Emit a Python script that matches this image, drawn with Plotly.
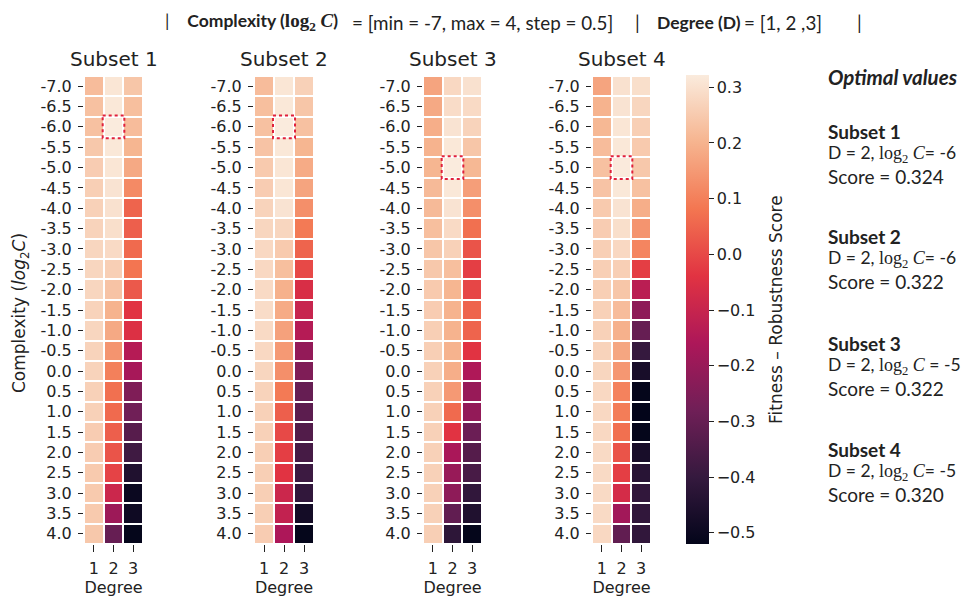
import numpy as np
import plotly.graph_objects as go

# ---------------- data ----------------
log2C = [-7.0, -6.5, -6.0, -5.5, -5.0, -4.5, -4.0, -3.5, -3.0, -2.5, -2.0, -1.5,
         -1.0, -0.5, 0.0, 0.5, 1.0, 1.5, 2.0, 2.5, 3.0, 3.5, 4.0]
log2C_labels = [f"{v:.1f}" for v in log2C]
degrees = [1, 2, 3]
subset_names = ["Subset 1", "Subset 2", "Subset 3", "Subset 4"]

s1_d1 = [0.22, 0.23, 0.23, 0.245, 0.255, 0.26, 0.265, 0.27, 0.275, 0.275, 0.275, 0.27,
         0.275, 0.27, 0.27, 0.265, 0.265, 0.255, 0.255, 0.25, 0.25, 0.25, 0.245]
s1_d2 = [0.31, 0.315, 0.324, 0.315, 0.31, 0.305, 0.30, 0.295, 0.285, 0.26, 0.235, 0.20,
         0.18, 0.14, 0.10, 0.07, 0.06, 0.04, 0.02, -0.01, -0.09, -0.19, -0.30]
s1_d3 = [0.24, 0.225, 0.22, 0.205, 0.18, 0.12, 0.05, 0.04, 0.06, 0.08, 0.03, -0.04,
         -0.05, -0.14, -0.17, -0.25, -0.28, -0.33, -0.38, -0.45, -0.50, -0.49, -0.515]

s2_d1 = [0.22, 0.225, 0.23, 0.235, 0.25, 0.255, 0.27, 0.275, 0.28, 0.28, 0.285, 0.29,
         0.285, 0.28, 0.275, 0.27, 0.265, 0.265, 0.26, 0.26, 0.26, 0.26, 0.255]
s2_d2 = [0.31, 0.315, 0.322, 0.315, 0.31, 0.31, 0.305, 0.275, 0.25, 0.225, 0.195, 0.185,
         0.165, 0.15, 0.13, 0.09, 0.04, 0.0, -0.02, -0.04, -0.09, -0.11, -0.16]
s2_d3 = [0.265, 0.24, 0.23, 0.205, 0.185, 0.17, 0.13, 0.09, 0.05, 0.0, -0.06, -0.10,
         -0.14, -0.21, -0.25, -0.30, -0.32, -0.34, -0.365, -0.385, -0.41, -0.48, -0.515]

s3_d1 = [0.17, 0.18, 0.19, 0.20, 0.205, 0.215, 0.215, 0.225, 0.24, 0.245, 0.25, 0.255,
         0.26, 0.26, 0.265, 0.265, 0.265, 0.265, 0.265, 0.265, 0.265, 0.265, 0.26]
s3_d2 = [0.28, 0.29, 0.305, 0.315, 0.322, 0.315, 0.305, 0.285, 0.265, 0.225, 0.205, 0.20,
         0.20, 0.20, 0.19, 0.15, 0.06, -0.04, -0.165, -0.20, -0.22, -0.31, -0.42]
s3_d3 = [0.30, 0.285, 0.27, 0.24, 0.21, 0.16, 0.13, 0.07, 0.02, -0.02, -0.005, 0.05,
         0.05, -0.04, -0.155, -0.20, -0.21, -0.29, -0.335, -0.36, -0.41, -0.45, -0.515]

s4_d1 = [0.17, 0.20, 0.21, 0.22, 0.23, 0.235, 0.25, 0.255, 0.26, 0.26, 0.26, 0.265,
         0.265, 0.27, 0.275, 0.28, 0.28, 0.28, 0.285, 0.285, 0.285, 0.285, 0.28]
s4_d2 = [0.30, 0.305, 0.31, 0.315, 0.320, 0.315, 0.305, 0.295, 0.28, 0.26, 0.24, 0.22,
         0.195, 0.175, 0.145, 0.105, 0.095, 0.07, 0.02, -0.02, -0.07, -0.18, -0.31]
s4_d3 = [0.295, 0.275, 0.26, 0.25, 0.245, 0.23, 0.19, 0.14, 0.11, -0.02, -0.13, -0.22,
         -0.30, -0.40, -0.47, -0.515, -0.52, -0.515, -0.47, -0.43, -0.41, -0.41, -0.41]

subsets = [
    (s1_d1, s1_d2, s1_d3),
    (s2_d1, s2_d2, s2_d3),
    (s3_d1, s3_d2, s3_d3),
    (s4_d1, s4_d2, s4_d3),
]

# optimal cell per subset (degree, log2C)
opt_degree = [2, 2, 2, 2]
opt_log2C = [-6.0, -6.0, -5.0, -5.0]
opt_score = ["0.324", "0.322", "0.322", "0.320"]

cbar_ticks = [-0.5, -0.4, -0.3, -0.2, -0.1, 0.0, 0.1, 0.2, 0.3]
cbar_ticktext = [f"{v:.1f}".replace("-", "\u2212") for v in cbar_ticks]
zmin, zmax = -0.52, 0.322

# seaborn "rocket" colormap (approximation)
rocket = [
    [0.0, "#03051a"], [1/7, "#35193e"], [2/7, "#701f57"], [3/7, "#ad1759"],
    [4/7, "#e13342"], [5/7, "#f37651"], [6/7, "#f6b48f"], [1.0, "#faebdd"],
]

# ---------------- layout geometry ----------------
W, H = 972, 596
OFF = 8  # page body margin offset


def px(xp):
    return (xp - OFF) / W


def py(yp):
    return 1 - (yp - OFF) / H


x_px = [(84, 143), (254, 314), (423, 482), (592, 651)]
y_px = (76, 544)
ydom = [py(y_px[1]), py(y_px[0])]

TXT = "#222222"
TICKFONT = dict(family="DejaVu Sans", size=16, color=TXT)
CAL = "Lato"

fig = go.Figure()
layout = dict(
    width=W, height=H, autosize=False,
    margin=dict(l=0, r=0, t=0, b=0),
    paper_bgcolor="white", plot_bgcolor="white",
    showlegend=False,
)

annotations = []
shapes = []
for i, (d1, d2, d3) in enumerate(subsets):
    k = "" if i == 0 else str(i + 1)
    z = np.column_stack([d1, d2, d3])
    fig.add_trace(go.Heatmap(
        z=z, x=degrees, y=log2C,
        xaxis="x" + k, yaxis="y" + k,
        colorscale=rocket, zmin=zmin, zmax=zmax,
        xgap=2, ygap=2,
        showscale=(i == 3),
        colorbar=dict(
            x=px(686), xanchor="left", xpad=0,
            y=py((75 + 544) / 2), yanchor="middle", ypad=0,
            len=(544 - 75) / H, lenmode="fraction",
            thickness=23, outlinewidth=0,
            ticks="outside", ticklen=5, tickwidth=1, tickcolor=TXT,
            tickvals=cbar_ticks, ticktext=cbar_ticktext,
            tickfont=TICKFONT,
        ),
        hovertemplate="Degree %{x}<br>log2C %{y}<br>Score %{z:.3f}<extra></extra>",
    ))
    xd = [px(x_px[i][0]), px(x_px[i][1])]
    layout["xaxis" + k] = dict(
        domain=xd, anchor="y" + k, range=[0.5, 3.5],
        tickvals=degrees, ticktext=[str(d) for d in degrees],
        ticks="outside", ticklen=7, tickwidth=1, tickcolor=TXT,
        ticklabelstandoff=3,
        tickfont=TICKFONT, showgrid=False, zeroline=False, showline=False,
        title=dict(text="Degree", standoff=4,
                   font=dict(family="DejaVu Sans", size=16, color=TXT)),
    )
    layout["yaxis" + k] = dict(
        domain=ydom, anchor="x" + k, range=[4.25, -7.25],
        tickvals=log2C, ticktext=log2C_labels,
        ticks="outside", ticklen=5, tickwidth=1, tickcolor=TXT,
        ticklabelstandoff=3,
        tickfont=TICKFONT, showgrid=False, zeroline=False, showline=False,
    )
    annotations.append(dict(
        text=subset_names[i], xref="paper", yref="paper",
        x=(xd[0] + xd[1]) / 2, y=py(59), xanchor="center", yanchor="middle",
        showarrow=False, font=dict(family="DejaVu Sans", size=20, color=TXT),
    ))
    shapes.append(dict(
        type="rect", xref="x" + k, yref="y" + k,
        x0=opt_degree[i] - 0.55, x1=opt_degree[i] + 0.55,
        y0=opt_log2C[i] - 0.28, y1=opt_log2C[i] + 0.28,
        line=dict(color="#e0203c", width=2, dash="dot"),
        fillcolor="rgba(0,0,0,0)",
    ))

# y-axis title
annotations.append(dict(
    text="Complexity (<i>log</i><sub>2</sub><i>C</i>)",
    xref="paper", yref="paper", x=px(20), y=py(313),
    xanchor="center", yanchor="middle", textangle=-90, showarrow=False,
    font=dict(family="DejaVu Sans", size=17, color=TXT),
))

# colorbar title
annotations.append(dict(
    text="Fitness \u2013 Robustness Score",
    xref="paper", yref="paper", x=px(776), y=py(310),
    xanchor="center", yanchor="middle", textangle=-90, showarrow=False,
    font=dict(family="DejaVu Sans", size=17, color=TXT),
))

NB = "\u00a0"


def log2c(size):
    return (f"<span style=\"font-family:'Liberation Serif';font-size:{size}px\">"
            f"log<sub>2</sub>{NB}<i>C</i></span>")


title_y = py(22)
REG, BLD = 18.8, 17.5
title_parts = [
    (f"|{NB*4}<b>Complexity ({log2c(19)})</b>", 340, "right", BLD),
    ("= [min = -7, max = 4, step = 0.5]", 350, "left", REG),
    ("|", 637, "center", REG),
    ("<b>Degree (D)</b>", 655, "left", BLD),
    ("= [1, 2 ,3]", 742, "left", REG),
    ("|", 859, "center", REG),
]
for txt, xp_, anchor, sz in title_parts:
    annotations.append(dict(
        text=txt, xref="paper", yref="paper", x=px(xp_), y=title_y,
        xanchor=anchor, yanchor="middle", showarrow=False,
        font=dict(family=CAL, size=sz, color=TXT),
    ))

# right-side panel
RX = px(826)
PSZ = 19
annotations.append(dict(
    text="<b><i>Optimal values</i></b>", xref="paper", yref="paper",
    x=RX, y=py(77), xanchor="left", yanchor="middle", showarrow=False,
    font=dict(family=CAL, size=20.5, color=TXT),
))
block_y = [131, 236, 343, 449]
for i in range(4):
    yb = block_y[i]
    eq = NB if i == 2 else ""
    annotations.append(dict(
        text=f"<b>{subset_names[i]}</b>", xref="paper", yref="paper",
        x=RX, y=py(yb), xanchor="left", yanchor="middle", showarrow=False,
        font=dict(family=CAL, size=PSZ, color=TXT),
    ))
    annotations.append(dict(
        text=f"D{NB}={NB}{opt_degree[i]}, {log2c(18)}{eq}= {int(opt_log2C[i])}",
        xref="paper", yref="paper",
        x=RX, y=py(yb + 23), xanchor="left", yanchor="middle", showarrow=False,
        font=dict(family=CAL, size=17.5, color=TXT),
    ))
    annotations.append(dict(
        text=f"Score = {opt_score[i]}", xref="paper", yref="paper",
        x=RX, y=py(yb + 45), xanchor="left", yanchor="middle", showarrow=False,
        font=dict(family=CAL, size=PSZ, color=TXT),
    ))

layout["annotations"] = annotations
layout["shapes"] = shapes
fig.update_layout(**layout)
fig.write_html("out.html")
